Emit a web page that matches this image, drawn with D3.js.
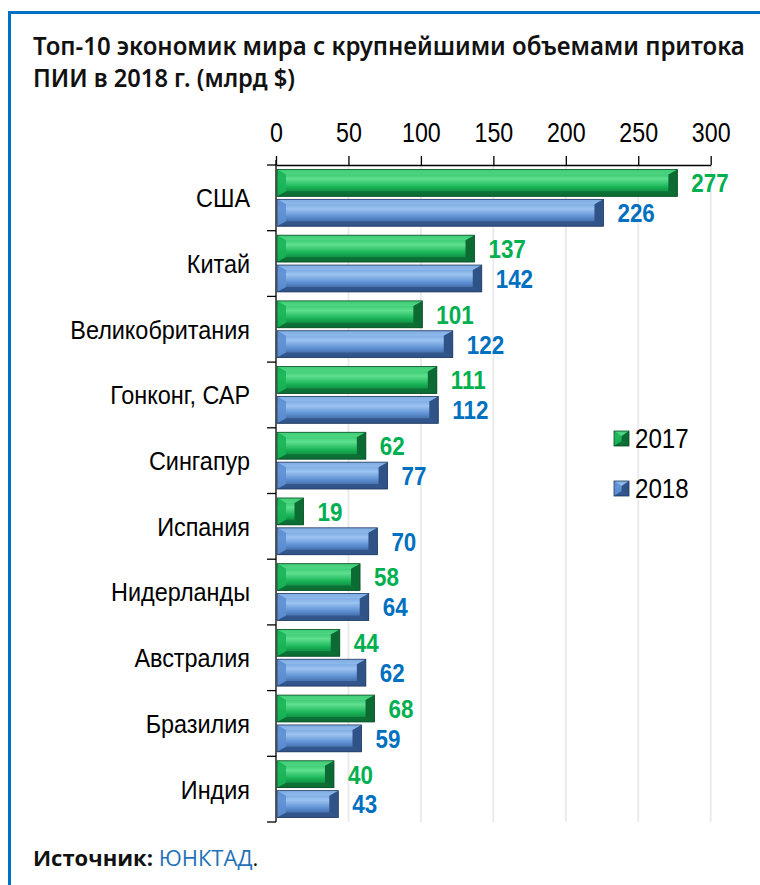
<!DOCTYPE html>
<html>
<head>
<meta charset="utf-8">
<script src="https://cdn.jsdelivr.net/npm/d3@7"></script>
<style>
  body { margin: 0; background: #fff; }
  svg { display: block; }
</style>
</head>
<body>
<div id="chart"></div>
<script>
// Данные: приток ПИИ, млрд $
const categories = ['США', 'Китай', 'Великобритания', 'Гонконг, САР', 'Сингапур',
  'Испания', 'Нидерланды', 'Австралия', 'Бразилия', 'Индия'];
const values2017 = [277, 137, 101, 111, 62, 19, 58, 44, 68, 40];
const values2018 = [226, 142, 122, 112, 77, 70, 64, 62, 59, 43];
const seriesNames = ['2017', '2018'];
const tickValues = [0, 50, 100, 150, 200, 250, 300];

const W = 760, H = 885;
const sans = "'Liberation Sans', Arial, sans-serif";

const palette = {
  '2017': { light: '#5fe08f', mid: '#19b457', dark: '#0b6b33', edge: '#0a4d26', label: '#00b050' },
  '2018': { light: '#9cc4f2', mid: '#5d8fd2', dark: '#2f5287', edge: '#203a60', label: '#0070c0' }
};

// сжать текст по горизонтали (имитация узкого шрифта)
function squeeze(sel, k) {
  sel.each(function() {
    const len = this.getComputedTextLength();
    d3.select(this).attr('textLength', len * k).attr('lengthAdjust', 'spacingAndGlyphs');
  });
}

const svg = d3.select('#chart').append('svg')
  .attr('width', W).attr('height', H);

const defs = svg.append('defs');
seriesNames.forEach(s => {
  const c = palette[s];
  const g = defs.append('linearGradient').attr('id', 'g' + s)
    .attr('x1', 0).attr('y1', 0).attr('x2', 0).attr('y2', 1);
  g.append('stop').attr('offset', '0%').attr('stop-color', c.mid);
  g.append('stop').attr('offset', '35%').attr('stop-color', c.light);
  g.append('stop').attr('offset', '65%').attr('stop-color', c.mid);
  g.append('stop').attr('offset', '100%').attr('stop-color', c.dark);
});

// Рамка
svg.append('line').attr('x1', 8).attr('x2', W).attr('y1', 12.5).attr('y2', 12.5)
  .attr('stroke', '#0070c0').attr('stroke-width', 3);
svg.append('line').attr('x1', 9.5).attr('x2', 9.5).attr('y1', 11).attr('y2', H)
  .attr('stroke', '#0070c0').attr('stroke-width', 3);

// Заголовок: строка растягивается до заданной ширины через масштаб
const titleLines = [
  { text: 'Топ-10 экономик мира с крупнейшими объемами притока', y: 55, width: 712 },
  { text: 'ПИИ в 2018 г. (млрд $)', y: 87, width: 262 }
];
titleLines.forEach(l => {
  const t = svg.append('text')
    .attr('font-family', "'Noto Sans', 'Open Sans', sans-serif")
    .attr('font-size', 25).attr('font-weight', 600).attr('fill', '#111')
    .text(l.text);
  const k = l.width / t.node().getComputedTextLength();
  t.attr('transform', `translate(33,${l.y}) scale(${k},1)`);
});

// Шкалы
const x = d3.scaleLinear().domain([0, 300]).range([276, 710.7]);
const y = d3.scaleBand().domain(categories).range([165, 822]);
const ys = d3.scaleBand().domain(seriesNames).range([0, y.bandwidth()])
  .paddingInner(0.1).paddingOuter(0.15);

// Сетка
svg.append('g').selectAll('line')
  .data(tickValues.slice(1))
  .join('line')
  .attr('x1', d => x(d)).attr('x2', d => x(d))
  .attr('y1', 165).attr('y2', 822)
  .attr('stroke', '#ebebeb').attr('stroke-width', 2);

// Ось X (сверху)
const xAxis = svg.append('g').attr('transform', 'translate(0,165)')
  .call(d3.axisTop(x).tickValues(tickValues).tickSize(9).tickPadding(14).tickSizeOuter(0));
xAxis.select('.domain').attr('stroke', '#000').attr('stroke-width', 1.3);
xAxis.selectAll('.tick line').attr('stroke', '#000').attr('stroke-width', 1.3);
xAxis.selectAll('text').attr('font-family', sans).attr('font-size', 27).attr('fill', '#000')
  .call(squeeze, 0.86);

// Ось Y
const yAxis = svg.append('g').attr('transform', 'translate(276,0)');
yAxis.append('line').attr('x1', 0).attr('x2', 0).attr('y1', 160).attr('y2', 822)
  .attr('stroke', '#000').attr('stroke-width', 1.3);
const bounds = categories.map(c => y(c)).concat([y.range()[1]]);
yAxis.selectAll('.ytick').data(bounds).join('line').attr('class', 'ytick')
  .attr('x1', -9).attr('x2', 0).attr('y1', d => d).attr('y2', d => d)
  .attr('stroke', '#000').attr('stroke-width', 1.3);
yAxis.selectAll('.ylab').data(categories).join('text').attr('class', 'ylab')
  .attr('x', -26).attr('y', d => y(d) + y.bandwidth() / 2)
  .attr('dy', '0.36em').attr('text-anchor', 'end')
  .attr('font-family', sans).attr('font-size', 26).attr('fill', '#000')
  .text(d => d)
  .call(squeeze, 0.9);

// Скошенный столбик
function bevelBar(g, x0, y0, w, h, s) {
  const c = palette[s];
  const bx = Math.min(9, w / 2), by = Math.min(5, h / 2);
  g.append('rect').attr('x', x0).attr('y', y0).attr('width', w).attr('height', h)
    .attr('fill', `url(#g${s})`);
  // верх
  g.append('path').attr('d', `M${x0},${y0}L${x0 + w},${y0}L${x0 + w - bx},${y0 + by}L${x0 + bx},${y0 + by}Z`)
    .attr('fill', c.light).attr('opacity', 0.55);
  // низ
  g.append('path').attr('d', `M${x0},${y0 + h}L${x0 + w},${y0 + h}L${x0 + w - bx},${y0 + h - by}L${x0 + bx},${y0 + h - by}Z`)
    .attr('fill', c.dark).attr('opacity', 0.8);
  // лево
  g.append('path').attr('d', `M${x0},${y0}L${x0 + bx},${y0 + by}L${x0 + bx},${y0 + h - by}L${x0},${y0 + h}Z`)
    .attr('fill', c.mid).attr('opacity', 0.9);
  // право
  g.append('path').attr('d', `M${x0 + w},${y0}L${x0 + w - bx},${y0 + by}L${x0 + w - bx},${y0 + h - by}L${x0 + w},${y0 + h}Z`)
    .attr('fill', c.dark);
  g.append('rect').attr('x', x0).attr('y', y0).attr('width', w).attr('height', h)
    .attr('fill', 'none').attr('stroke', c.edge).attr('stroke-width', 0.8);
}

const rows = categories.map((c, i) => ({ cat: c, '2017': values2017[i], '2018': values2018[i] }));
const barsG = svg.append('g');
rows.forEach(r => {
  seriesNames.forEach(s => {
    const y0 = y(r.cat) + ys(s);
    const x0 = x(0) + 1;
    bevelBar(barsG, x0, y0, x(r[s]) - x0, ys.bandwidth(), s);
    barsG.append('text')
      .attr('x', x(r[s]) + 14).attr('y', y0 + ys.bandwidth() / 2)
      .attr('dy', '0.36em')
      .attr('font-family', sans).attr('font-weight', 700).attr('font-size', 26)
      .attr('fill', palette[s].label)
      .text(r[s])
      .call(squeeze, 0.86);
  });
});

// Легенда
const legend = svg.append('g');
seriesNames.forEach((s, i) => {
  const ly = 438 + i * 50;
  bevelBar(legend, 614, ly - 7, 15, 15, s);
  legend.append('text').attr('x', 635).attr('y', ly).attr('dy', '0.36em')
    .attr('font-family', sans).attr('font-size', 28).attr('fill', '#000')
    .text(s)
    .call(squeeze, 0.86);
});

// Источник
const src = svg.append('text').attr('x', 33).attr('y', 866)
  .attr('font-family', "'Open Sans', 'Noto Sans', sans-serif").attr('font-size', 22);
src.append('tspan').attr('font-weight', 700).attr('fill', '#111').text('Источник: ');
src.append('tspan').attr('fill', '#1f72b8').text('ЮНКТАД');
src.append('tspan').attr('fill', '#111').text('.');
</script>
</body>
</html>
